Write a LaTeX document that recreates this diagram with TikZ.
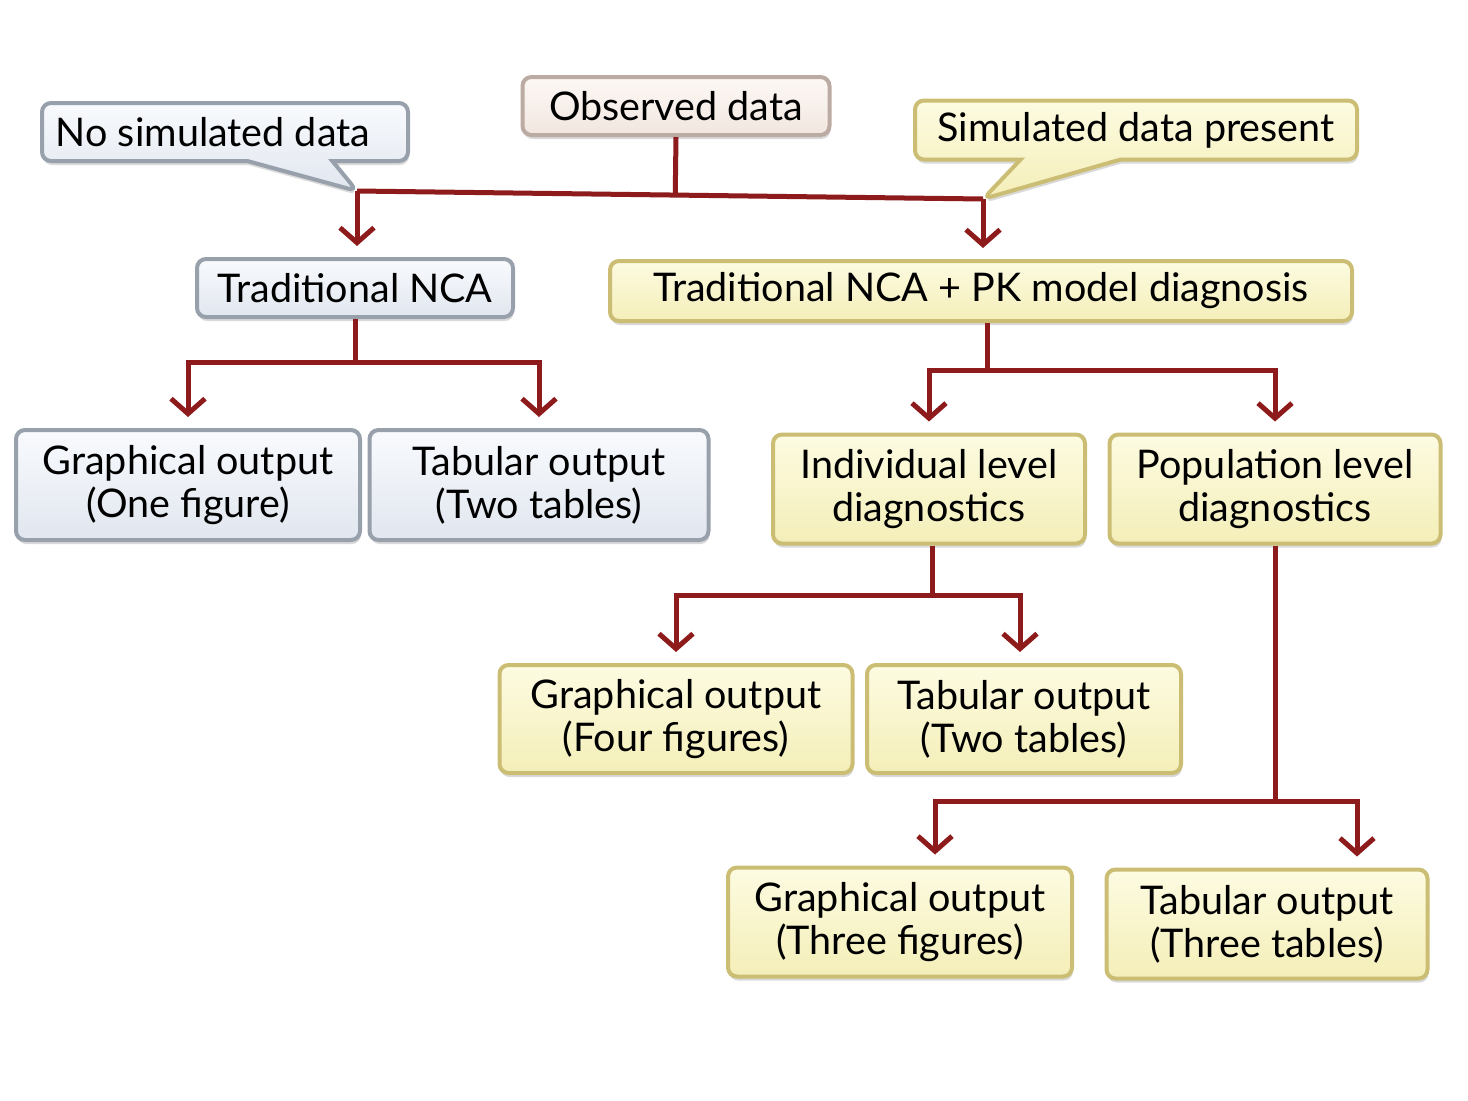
\documentclass[tikz,border=0pt]{standalone}
\usepackage{fontspec}
\setmainfont{Lato}
\usetikzlibrary{
    arrows.meta,
    shapes.callouts,
    shadows,
    calc,
    positioning
}
\definecolor{linkred}{HTML}{8E1B1B}
\definecolor{bluefill}{HTML}{EEF3FB}
\definecolor{blueedge}{HTML}{98A0AC}
\definecolor{yellowfill}{HTML}{FBF7C4}
\definecolor{yellowedge}{HTML}{CBBE74}
\definecolor{beigefill}{HTML}{FBF1EB}
\definecolor{beigeedge}{HTML}{BCABA2}
\tikzset{
    panel/.style={rounded corners=9pt, line width=4pt, inner sep=3pt, align=center,
        font=\fontsize{39.5}{43}\selectfont,
        drop shadow={shadow xshift=1pt, shadow yshift=-4pt, opacity=.3}},
    bluebox/.style={panel, draw=blueedge, top color=white!60!bluefill, bottom color=bluefill!85!blueedge},
    yellowbox/.style={panel, draw=yellowedge, top color=white!50!yellowfill, bottom color=yellowfill!85!yellowedge},
    beigebox/.style={panel, draw=beigeedge, top color=white!50!beigefill, bottom color=beigefill!85!beigeedge},
    link/.style={draw=linkred, line width=5pt},
    flow/.style={link, -{Straight Barb[length=15pt, width=34pt]}, shorten >=11pt}
}

\begin{document}
\begin{tikzpicture}[x=1pt, y=-1pt]
    \useasboundingbox (0, 0) rectangle (1468, 1101);
    % callout tips on the top bar
    \coordinate (nosimtip) at (357, 191);
    \coordinate (simtip) at (983, 199);
    % top row
    \node[bluebox, rectangle callout, callout absolute pointer=(nosimtip), callout pointer width=85pt,
        minimum width=366pt, minimum height=58pt] (nosim) at (225, 132) {No simulated data\hspace*{24pt}};
    \node[beigebox, minimum width=307pt, minimum height=58pt] (obs) at (676, 106) {Observed data};
    \node[yellowbox, rectangle callout, callout absolute pointer=(simtip), callout pointer width=100pt,
        minimum width=442pt, minimum height=59pt] (simpres) at (1136, 130) {Simulated data present};
    % second row
    \node[bluebox, minimum width=316pt, minimum height=58pt] (nca) at (355, 288) {Traditional NCA};
    \node[yellowbox, minimum width=742pt, minimum height=60pt] (ncapk) at (981, 291) {Traditional NCA + PK model diagnosis};
    % third row
    \node[bluebox, minimum width=344pt, minimum height=110pt] (graphone) at (188, 485) {Graphical output\\(One figure)};
    \node[bluebox, minimum width=339pt, minimum height=110pt] (tabtwo) at (539, 485) {Tabular output\\(Two tables)};
    \node[yellowbox, minimum width=312pt, minimum height=109pt] (indiv) at (929, 489) {Individual level\\diagnostics};
    \node[yellowbox, minimum width=331pt, minimum height=109pt] (popul) at (1275, 489) {Population level\\diagnostics};
    % fourth row
    \node[yellowbox, minimum width=353pt, minimum height=108pt] (graphfour) at (676, 719) {Graphical output\\(Four figures)};
    \node[yellowbox, minimum width=314pt, minimum height=108pt] (tabtwob) at (1024, 719) {Tabular output\\(Two tables)};
    % fifth row
    \node[yellowbox, minimum width=344pt, minimum height=109pt] (graphthree) at (900, 922) {Graphical output\\(Three figures)};
    \node[yellowbox, minimum width=321pt, minimum height=109pt] (tabthree) at (1267, 924) {Tabular output\\(Three tables)};

    % connectors
    \draw[link] (nosimtip) -- (simtip);
    \draw[link] (obs.south) -- ($(nosimtip)!(obs.south)!(simtip)$);
    \draw[flow] (nosimtip) -- (nosimtip |- nca.north);
    \draw[flow] (simtip) -- (simtip |- ncapk.north);

    \coordinate (jnca) at ($(nca.south)+(0, 43)$);
    \draw[link] (nca.south) -- (jnca);
    \draw[flow] (jnca) -| (graphone.north);
    \draw[flow] (jnca) -| (tabtwo.north);

    \coordinate (jpk) at ($(ncapk.south)+(6, 47)$);
    \draw[link] ($(ncapk.south)+(6, 0)$) -- (jpk);
    \draw[flow] (jpk) -| (indiv.north);
    \draw[flow] (jpk) -| (popul.north);

    \coordinate (jind) at ($(indiv.south)+(3, 50)$);
    \draw[link] ($(indiv.south)+(3, 0)$) -- (jind);
    \draw[flow] (jind) -| (graphfour.north);
    \draw[flow] (jind) -| ($(tabtwob.north)+(-4, 0)$);

    \coordinate (jpop) at ($(popul.south)+(0, 256)$);
    \draw[link] (popul.south) -- (jpop);
    \draw[flow] (jpop) -| ($(graphthree.north)+(35, 0)$);
    \draw[flow] (jpop) -| ($(tabthree.north)+(90, 0)$);
\end{tikzpicture}
\end{document}
